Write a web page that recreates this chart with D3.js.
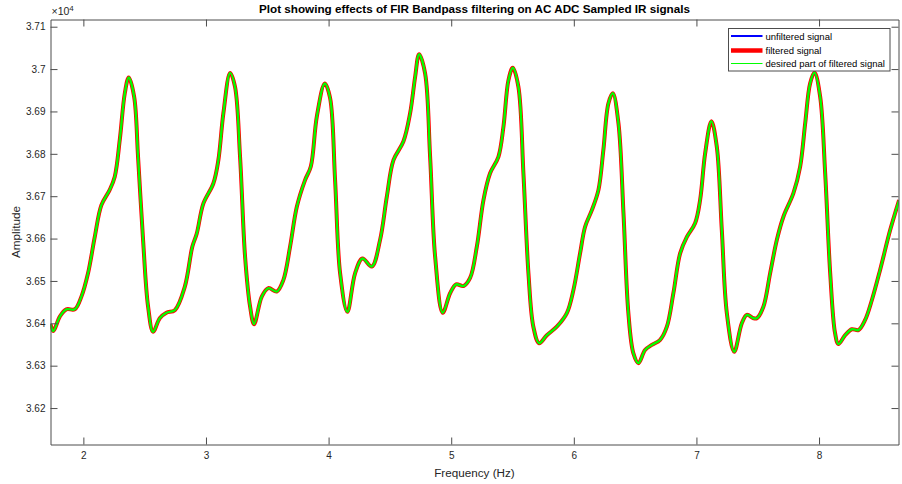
<!DOCTYPE html>
<html><head><meta charset="utf-8">
<script src="https://cdn.jsdelivr.net/npm/d3@7"></script>
<style>
html,body{margin:0;padding:0;background:#fff;}
svg{display:block;font-family:"Liberation Sans",Arial,Helvetica,sans-serif;}
</style></head>
<body><svg id="chart" width="902" height="484"></svg>
<script>
// ---- data ----
const freq = [1.732,1.755,1.808,1.861,1.930,1.984,2.038,2.093,2.147,2.215,2.256,2.297,2.338,2.370,2.414,2.446,2.487,2.528,2.569,2.623,2.677,2.746,2.827,2.889,2.925,2.979,3.060,3.101,3.142,3.197,3.237,3.278,3.319,3.360,3.392,3.455,3.509,3.577,3.631,3.686,3.741,3.808,3.855,3.904,3.969,4.012,4.053,4.094,4.153,4.216,4.276,4.352,4.420,4.475,4.529,4.610,4.665,4.706,4.738,4.787,4.828,4.869,4.931,4.991,5.040,5.100,5.154,5.209,5.263,5.317,5.385,5.426,5.467,5.502,5.548,5.589,5.630,5.670,5.717,5.780,5.861,5.943,5.997,6.051,6.092,6.147,6.201,6.241,6.282,6.318,6.364,6.405,6.445,6.486,6.527,6.581,6.636,6.704,6.759,6.812,6.867,6.922,6.989,7.030,7.071,7.122,7.166,7.207,7.248,7.308,7.370,7.411,7.465,7.493,7.546,7.601,7.656,7.710,7.791,7.846,7.887,7.927,7.963,8.009,8.050,8.091,8.131,8.158,8.213,8.268,8.321,8.376,8.431,8.498,8.580,8.653];
const amplitude = [36398,36382,36416,36433,36433,36463,36518,36604,36679,36715,36746,36833,36943,36980,36935,36793,36597,36439,36380,36412,36425,36431,36486,36581,36612,36683,36730,36785,36896,36991,36958,36793,36557,36439,36398,36463,36483,36475,36502,36581,36675,36738,36770,36888,36966,36932,36738,36518,36427,36518,36553,36534,36597,36699,36785,36829,36896,36982,37035,36990,36793,36557,36425,36471,36492,36488,36507,36581,36691,36754,36793,36864,36974,37003,36958,36754,36518,36392,36353,36372,36392,36424,36479,36565,36628,36667,36715,36809,36919,36943,36872,36660,36424,36329,36306,36337,36349,36361,36392,36471,36565,36604,36636,36691,36801,36877,36817,36620,36424,36333,36400,36420,36412,36412,36439,36518,36597,36652,36707,36770,36872,36966,36992,36935,36754,36518,36376,36351,36372,36386,36384,36408,36455,36526,36620,36691];
const xTicks = [2,3,4,5,6,7,8];
const xTickLabels = ["2","3","4","5","6","7","8"];
const yTicks = [36200,36300,36400,36500,36600,36700,36800,36900,37000,37100];
const yTickLabels = ["3.62","3.63","3.64","3.65","3.66","3.67","3.68","3.69","3.7","3.71"];
const xDomain = [1.732, 8.648];
const yDomain = [36114, 37117];
const seriesNames = ["unfiltered signal","filtered signal","desired part of filtered signal"];
const titleText = "Plot showing effects of FIR Bandpass filtering on AC ADC Sampled IR signals";
const xLabelText = "Frequency (Hz)";
const yLabelText = "Amplitude";

// ---- layout ----
const L = 50.5, R = 898.5, T = 19.5, B = 444.5;
const svg = d3.select("#chart");
const x = d3.scaleLinear().domain(xDomain).range([L, R]);
const y = d3.scaleLinear().domain(yDomain).range([B, T]);
const axisCol = "#4d4d4d", textCol = "#262626";
const pts = freq.map((f, i) => [f, amplitude[i]]);

svg.append("defs").append("clipPath").attr("id","clip")
  .append("rect").attr("x", L).attr("y", T).attr("width", R-L).attr("height", B-T);

const line = d3.line().x(d => x(d[0])).y(d => y(d[1])).curve(d3.curveCatmullRom.alpha(0.5));
const g = svg.append("g").attr("clip-path","url(#clip)");
g.append("path").attr("d", line(pts)).attr("fill","none").attr("stroke","#0000ff").attr("stroke-width",2);
g.append("path").attr("d", line(pts)).attr("fill","none").attr("stroke","#ff0000").attr("stroke-width",4).attr("stroke-linejoin","round");
g.append("path").attr("d", line(pts)).attr("fill","none").attr("stroke","#00ff00").attr("stroke-width",2.4).attr("stroke-linejoin","round");

// axes (MATLAB style: inward ticks, box)
const tl = 7;
const axB = svg.append("g").attr("transform",`translate(0,${B})`)
  .call(d3.axisBottom(x).tickValues(xTicks).tickFormat((d,i)=>xTickLabels[i]).tickSizeInner(-tl).tickSizeOuter(0).tickPadding(7));
const axT = svg.append("g").attr("transform",`translate(0,${T})`)
  .call(d3.axisTop(x).tickValues(xTicks).tickFormat("").tickSizeInner(-tl).tickSizeOuter(0));
const axL = svg.append("g").attr("transform",`translate(${L},0)`)
  .call(d3.axisLeft(y).tickValues(yTicks).tickFormat((d,i)=>yTickLabels[i]).tickSizeInner(-tl).tickSizeOuter(0).tickPadding(5));
const axR = svg.append("g").attr("transform",`translate(${R},0)`)
  .call(d3.axisRight(y).tickValues(yTicks).tickFormat("").tickSizeInner(-tl).tickSizeOuter(0));
[axB,axT,axL,axR].forEach(a=>{
  a.select(".domain").attr("stroke",axisCol);
  a.selectAll(".tick line").attr("stroke",axisCol);
  a.selectAll(".tick text").attr("fill",textCol).style("font-size","10px").style("font-family",'"Liberation Sans",Arial,sans-serif');
});

// exponent label
const ex = svg.append("text").attr("x", L+1).attr("y", 15).attr("fill", textCol)
  .style("font-size","10.5px");
ex.append("tspan").text("\u00d710");
ex.append("tspan").attr("dy",-4).style("font-size","8px").text("4");

// title & labels
svg.append("text").attr("x",(L+R)/2).attr("y",13).attr("text-anchor","middle")
  .attr("fill","#000").style("font-size","11.7px").style("font-weight","bold").text(titleText);
svg.append("text").attr("x",(L+R)/2).attr("y",477).attr("text-anchor","middle")
  .attr("fill",textCol).style("font-size","11.7px").text(xLabelText);
svg.append("text").attr("transform",`translate(20,${(T+B)/2}) rotate(-90)`).attr("text-anchor","middle")
  .attr("fill",textCol).style("font-size","11.7px").text(yLabelText);

// legend
const lg = svg.append("g");
lg.append("rect").attr("x",728.5).attr("y",28.5).attr("width",161.5).attr("height",42.5)
  .attr("fill","#fff").attr("stroke",axisCol).attr("stroke-width",1);
const legStroke = [["#0000ff",2],["#ff0000",4.5],["#00ff00",1]];
const legY = [36, 50.5, 63.5];
seriesNames.forEach((n,i)=>{
  lg.append("line").attr("x1",731).attr("x2",762.5).attr("y1",legY[i]).attr("y2",legY[i])
    .attr("stroke",legStroke[i][0]).attr("stroke-width",legStroke[i][1]);
  lg.append("text").attr("x",765.5).attr("y",legY[i]+3.5).attr("fill","#000")
    .style("font-size","9.5px").text(n);
});
</script></body></html>
